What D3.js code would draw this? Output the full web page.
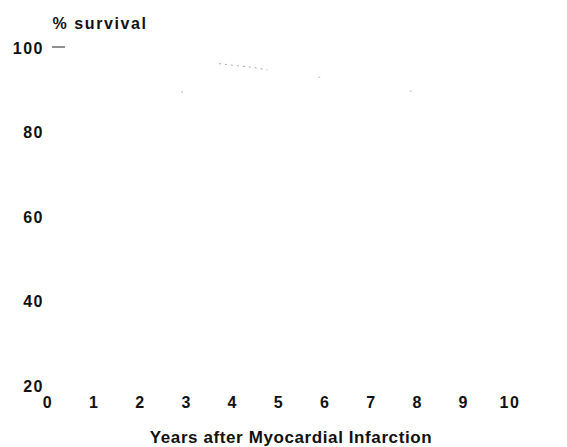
<!DOCTYPE html>
<html>
<head>
<meta charset="utf-8">
<script src="https://cdn.jsdelivr.net/npm/d3@7"></script>
<style>
  body { margin: 0; background: #fff; }
  text { font-family: "Liberation Sans", Arial, sans-serif; font-weight: bold; fill: #111; }
</style>
</head>
<body>
<svg id="chart"></svg>
<script>
const width = 567;
const height = 447;

// x ticks (years) and y ticks (% survival)
const yearTicks = [0, 1, 2, 3, 4, 5, 6, 7, 8, 9, 10];
const survivalTicks = [20, 40, 60, 80, 100];

// the only visible pieces of the (faded) survival curves
const fragmentYears = [3.7, 4.1, 4.45, 4.75];
const fragmentSurvival = [96.3, 95.8, 95.4, 94.8];
const dotYears = [2.9, 5.87, 7.85];
const dotSurvival = [89.6, 93.1, 89.8];

const svg = d3.select("#chart")
    .attr("width", width)
    .attr("height", height);

const x = d3.scaleLinear().domain([0, 10]).range([48, 510]);
const y = d3.scaleLinear().domain([20, 100]).range([386, 48]);

// y labels
svg.append("g")
    .selectAll("text")
    .data(survivalTicks)
    .join("text")
        .attr("x", 44)
        .attr("y", d => y(d))
        .attr("dy", "0.36em")
        .attr("text-anchor", "end")
        .attr("font-size", 16)
        .attr("letter-spacing", 1.5)
        .text(d => d);

// little dash at 100
svg.append("line")
    .attr("x1", 52).attr("x2", 65)
    .attr("y1", y(100) - 1).attr("y2", y(100) - 1)
    .attr("stroke", "#222")
    .attr("stroke-width", 1);

// x labels
svg.append("g")
    .selectAll("text")
    .data(yearTicks)
    .join("text")
        .attr("x", d => x(d))
        .attr("y", 402)
        .attr("dy", "0.36em")
        .attr("text-anchor", "middle")
        .attr("font-size", 16)
        .attr("letter-spacing", 1.5)
        .text(d => d);

svg.append("text")
    .attr("x", 100)
    .attr("y", 23)
    .attr("dy", "0.36em")
    .attr("text-anchor", "middle")
    .attr("font-size", 16)
    .attr("letter-spacing", 1.6)
    .text("% survival");

svg.append("text")
    .attr("x", 291)
    .attr("y", 437)
    .attr("dy", "0.36em")
    .attr("text-anchor", "middle")
    .attr("font-size", 17)
    .attr("letter-spacing", 0.6)
    .text("Years after Myocardial Infarction");

// faint curve remains
const line = d3.line()
    .x((d, i) => x(fragmentYears[i]))
    .y(d => y(d));

svg.append("path")
    .datum(fragmentSurvival)
    .attr("d", line)
    .attr("fill", "none")
    .attr("stroke", "#aaa")
    .attr("stroke-width", 1)
    .attr("stroke-dasharray", "2,4");

svg.append("g")
    .selectAll("rect")
    .data(dotSurvival)
    .join("rect")
        .attr("x", (d, i) => x(dotYears[i]) - 1)
        .attr("y", d => y(d) - 0.5)
        .attr("width", 2)
        .attr("height", 1)
        .attr("fill", "#bbb");
</script>
</body>
</html>
